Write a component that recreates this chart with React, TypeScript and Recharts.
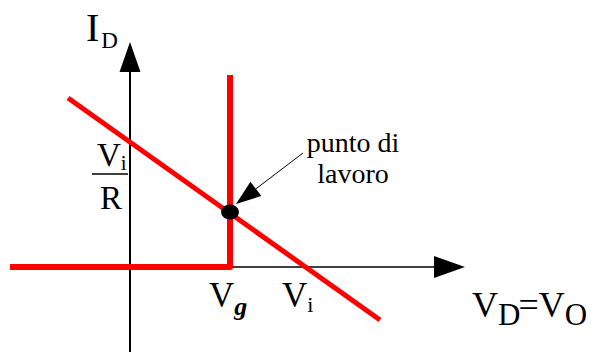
import { ComposedChart, Line, XAxis, YAxis, ReferenceLine, ReferenceDot } from "recharts";

const SERIF = "'Liberation Serif', 'Times New Roman', serif";
const RED = "#ff0000";
const INK = "#000";

// ideal diode characteristic: off until Vg, then vertical
const diodeV = [-1.2, 1, 1];
const diodeI = [0, 0, 1.92];

// load line I = (Vi - V) / R
const loadV = [-0.62, 2.5];
const loadI = [1.69, -0.53];

// operating point
const opV = 1;
const opI = 0.55;

// marks on the axes
const VG = 1;
const VI = 1.76;
const VI_R = 1.24;

// axis extents
const xAxisV = [-1.2, 3.35];
const yAxisI = [-0.85, 2.25];

// leader from the "punto di lavoro" note to the point
const noteV = [1.73, 1.06];
const noteI = [1.14, 0.63];

const diodeData = diodeV.map((v, k) => ({ v, i: diodeI[k] }));
const loadData = loadV.map((v, k) => ({ v, i: loadI[k] }));

const serif = { fontFamily: SERIF };

function arrowShape(len: number, half: number, width: number) {
  return (p: any) => {
    const { x1, y1, x2, y2 } = p;
    const dx = x2 - x1;
    const dy = y2 - y1;
    const d = Math.hypot(dx, dy) || 1;
    const ux = dx / d;
    const uy = dy / d;
    const bx = x2 - ux * len;
    const by = y2 - uy * len;
    const pts = `${x2},${y2} ${bx - uy * half},${by + ux * half} ${bx + uy * half},${by - ux * half}`;
    return (
      <g>
        <line x1={x1} y1={y1} x2={bx} y2={by} stroke={INK} strokeWidth={width} />
        <polygon points={pts} fill={INK} />
      </g>
    );
  };
}

const at = (draw: (x: number, y: number) => any) => (p: any) => draw(p.cx, p.cy);

export default function App() {
  return (
    <div style={{ position: "absolute", left: 0, top: 0, background: "#fff" }}>
      <ComposedChart width={594} height={354} margin={{ top: 0, right: 0, bottom: 0, left: 0 }}>
        <XAxis type="number" dataKey="v" domain={[-1.3, 4.64]} hide allowDataOverflow />
        <YAxis type="number" dataKey="i" domain={[-0.87, 2.67]} hide allowDataOverflow />

        {/* axes */}
        <ReferenceLine
          segment={[{ x: xAxisV[0], y: 0 }, { x: xAxisV[1], y: 0 }]}
          shape={arrowShape(31, 11, 1.5)}
          ifOverflow="visible"
        />
        <ReferenceLine
          segment={[{ x: 0, y: yAxisI[0] }, { x: 0, y: yAxisI[1] }]}
          shape={arrowShape(30, 10.5, 2)}
          ifOverflow="visible"
        />

        <Line
          data={diodeData}
          dataKey="i"
          type="linear"
          stroke={RED}
          strokeWidth={6}
          strokeLinejoin="round"
          dot={false}
          activeDot={false}
          isAnimationActive={false}
        />
        <Line
          data={loadData}
          dataKey="i"
          type="linear"
          stroke={RED}
          strokeWidth={5}
          dot={false}
          activeDot={false}
          isAnimationActive={false}
        />

        {/* operating point and its note */}
        <ReferenceDot
          x={opV}
          y={opI}
          shape={at((x, y) => <ellipse cx={x} cy={y} rx={9} ry={7.5} fill={INK} />)}
        />
        <ReferenceLine
          segment={[{ x: noteV[0], y: noteI[0] }, { x: noteV[1], y: noteI[1] }]}
          shape={arrowShape(25, 9, 1)}
          ifOverflow="visible"
        />
        <ReferenceDot
          x={noteV[0]}
          y={noteI[0]}
          shape={at((x, y) => (
            <text style={serif} fontSize={28} fill={INK} textAnchor="middle">
              <tspan x={x + 50} y={y - 1}>punto di</tspan>
              <tspan x={x + 50} y={y + 30}>lavoro</tspan>
            </text>
          ))}
        />

        {/* axis titles */}
        <ReferenceDot
          x={0}
          y={yAxisI[1]}
          shape={at((x, y) => (
            <text x={x - 44} y={y - 1} style={serif} fontSize={40} fill={INK}>
              I<tspan fontSize={23} dx={2} dy={7}>D</tspan>
            </text>
          ))}
        />
        <ReferenceDot
          x={xAxisV[1]}
          y={0}
          shape={at((x, y) => (
            <text x={x + 7} y={y + 50} style={serif} fontSize={36} fill={INK}>
              V<tspan fontSize={31} dy={8}>D</tspan>
              <tspan dy={-8} dx={-2}>=V</tspan>
              <tspan fontSize={31} dy={8}>O</tspan>
            </text>
          ))}
        />

        {/* tick labels */}
        <ReferenceDot
          x={VG}
          y={0}
          shape={at((x, y) => (
            <text x={x - 21} y={y + 40} style={serif} fontSize={35} fill={INK}>
              V<tspan fontSize={26} fontWeight="bold" fontStyle="italic" dy={8}>g</tspan>
            </text>
          ))}
        />
        <ReferenceDot
          x={VI}
          y={0}
          shape={at((x, y) => (
            <text x={x - 24} y={y + 40} style={serif} fontSize={35} fill={INK}>
              V<tspan fontSize={22} dy={5}>i</tspan>
            </text>
          ))}
        />
        <ReferenceDot
          x={0}
          y={VI_R}
          shape={at((x, y) => (
            <g>
              <text x={x - 33} y={y + 23} style={serif} fontSize={33} fill={INK}>
                V<tspan fontSize={21} dy={4}>i</tspan>
              </text>
              <line x1={x - 38} y1={y + 31} x2={x - 2} y2={y + 31} stroke={INK} strokeWidth={1.5} />
              <text x={x - 30} y={y + 66} style={serif} fontSize={33} fill={INK}>R</text>
            </g>
          ))}
        />
      </ComposedChart>
    </div>
  );
}
